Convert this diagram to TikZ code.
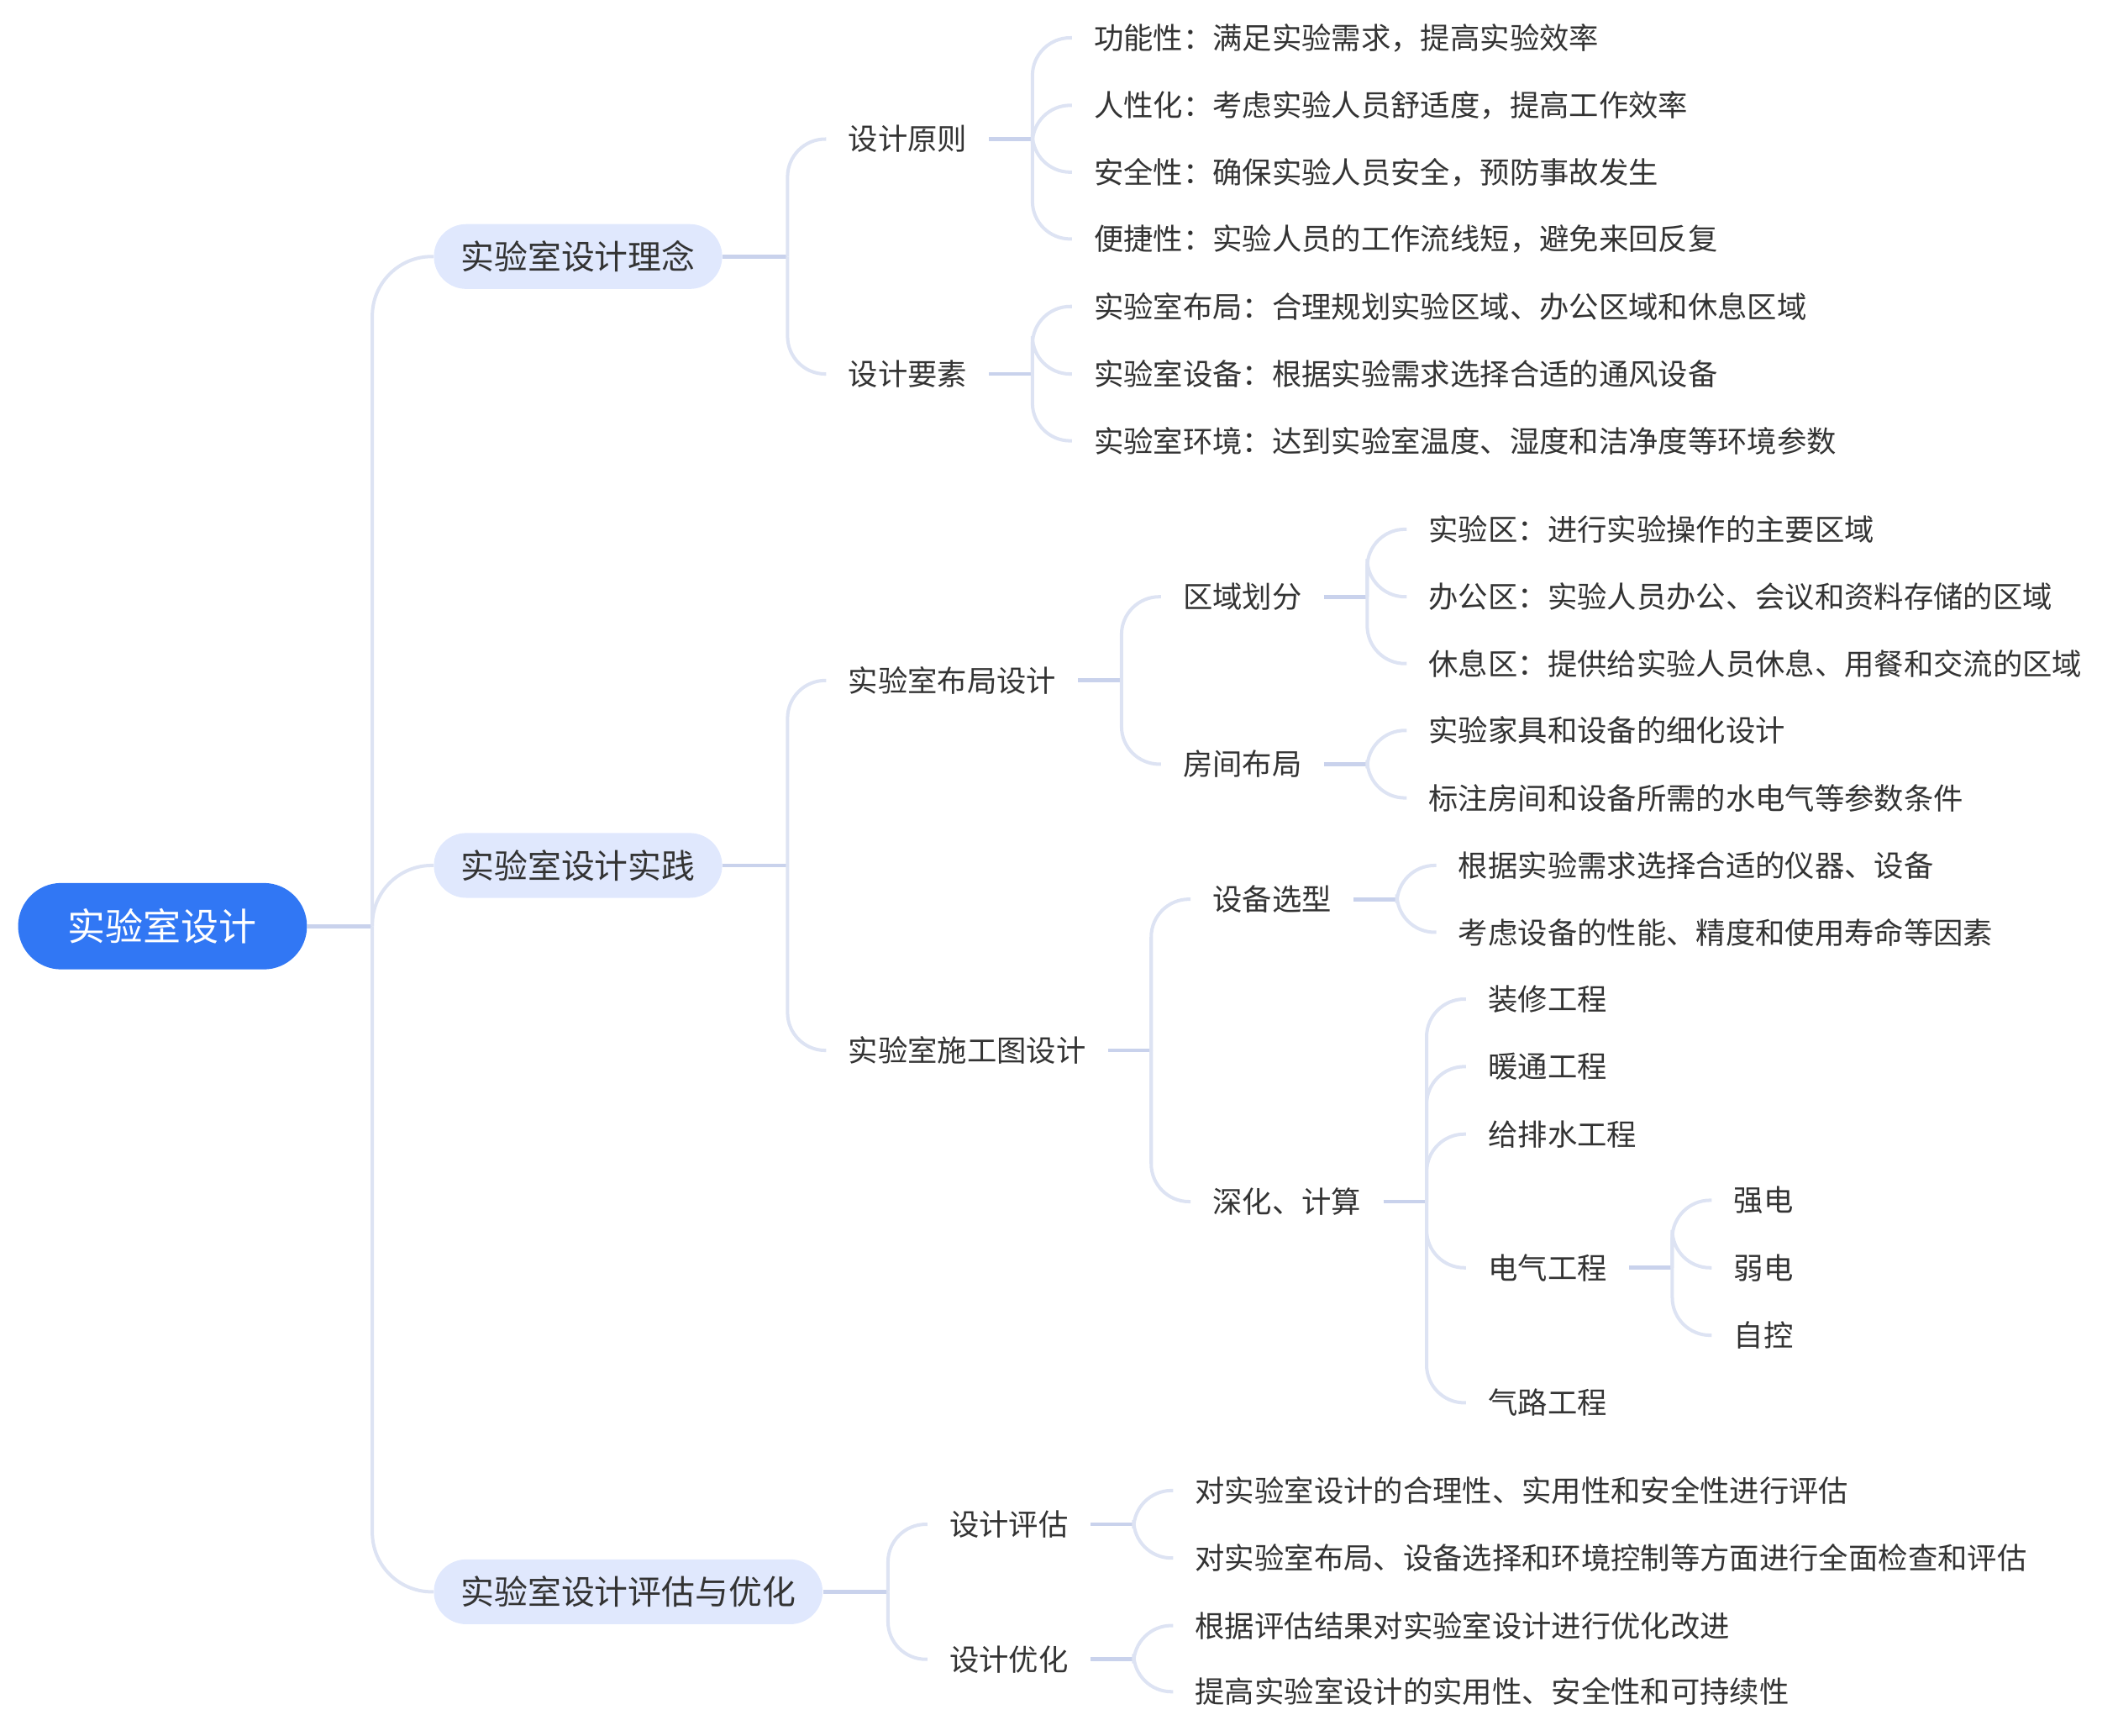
\documentclass[tikz,border=0pt]{standalone}
\usepackage{fontspec}
\setmainfont{Noto Sans CJK SC}
\usepackage{tikz}

\definecolor{rootblue}{HTML}{3177F4}
\definecolor{topicfill}{HTML}{E0E8FD}
\definecolor{txt}{HTML}{333333}
\definecolor{twigc}{HTML}{DDE3F3}
\definecolor{stubc}{HTML}{C9D2EC}

\begin{document}
\begin{tikzpicture}
[%%%%%%%%%%%%%%%%%%%%%%%%%%%%%%
x=0.5pt,y=-0.5pt,
root/.style={rectangle,fill=rootblue,text=white,rounded corners=16pt,minimum height=32pt,inner xsep=18.5pt,font=\fontsize{14pt}{16pt}\selectfont,anchor=west},
topic/.style={rectangle,fill=topicfill,text=txt,rounded corners=12pt,minimum height=24pt,inner xsep=10pt,font=\fontsize{12.4pt}{14pt}\selectfont,anchor=west},
item/.style={rectangle,text=txt,inner xsep=8pt,inner ysep=2pt,font=\fontsize{11pt}{13pt}\selectfont,anchor=west},
stub/.style={draw=stubc,line width=1.5pt},
twig/.style={draw=twigc,line width=1.25pt,rounded corners=14pt},
]%%%%%%%%%%%%%%%%%%%%%%%%%%%%%%
\useasboundingbox (0,0) rectangle (1569,1285.8);

% root and main topics
\node[root] (root) at (13,686){实验室设计};
\node[topic] (lx) at (321,190){实验室设计理念};
\node[topic] (sj) at (321,641){实验室设计实践};
\node[topic] (pg) at (321,1179){实验室设计评估与优化};

% 设计理念
\node[item] (yz) at (612,103){设计原则};
\node[item] (ys) at (612,277){设计要素};
\foreach \n/\y/\t in {yz1/28/功能性：满足实验需求，提高实验效率,
                     yz2/78/人性化：考虑实验人员舒适度，提高工作效率,
                     yz3/127.5/安全性：确保实验人员安全，预防事故发生,
                     yz4/177/便捷性：实验人员的工作流线短，避免来回反复,
                     ys1/227/实验室布局：合理规划实验区域、办公区域和休息区域,
                     ys2/277/实验室设备：根据实验需求选择合适的通风设备,
                     ys3/326.5/实验室环境：达到实验室温度、湿度和洁净度等环境参数}
\node[item] (\n) at (794,\y){\t};

% 设计实践
\node[item] (bj) at (612,504){实验室布局设计};
\node[item] (sg) at (612,778){实验室施工图设计};
\node[item] (qy) at (860,442){区域划分};
\node[item] (fj) at (860,566){房间布局};
\foreach \n/\y/\t in {qy1/392/实验区：进行实验操作的主要区域,
                     qy2/442/办公区：实验人员办公、会议和资料存储的区域,
                     qy3/491.5/休息区：提供给实验人员休息、用餐和交流的区域,
                     fj1/541/实验家具和设备的细化设计,
                     fj2/591/标注房间和设备所需的水电气等参数条件}
\node[item] (\n) at (1042,\y){\t};
\node[item] (xx) at (882,666){设备选型};
\node[item] (sh) at (882,890){深化、计算};
\node[item] (xx1) at (1064,641){根据实验需求选择合适的仪器、设备};
\node[item] (xx2) at (1064,690.5){考虑设备的性能、精度和使用寿命等因素};
\foreach \n/\y/\t in {sh1/740/装修工程,sh2/790/暖通工程,sh3/840/给排水工程,
                     sh4/939/电气工程,sh5/1039/气路工程}
\node[item] (\n) at (1086,\y){\t};
\foreach \n/\y/\t in {dq1/889/强电,dq2/939/弱电,dq3/989/自控}
\node[item] (\n) at (1268,\y){\t};

% 评估与优化
\node[item] (pgs) at (687,1129){设计评估};
\node[item] (yh) at (687,1229){设计优化};
\foreach \n/\y/\t in {pgs1/1104/对实验室设计的合理性、实用性和安全性进行评估,
                     pgs2/1154/对实验室布局、设备选择和环境控制等方面进行全面检查和评估,
                     yh1/1204/根据评估结果对实验室设计进行优化改进,
                     yh2/1253/提高实验室设计的实用性、安全性和可持续性}
\node[item] (\n) at (869,\y){\t};

% connectors
\draw[stub] (root.east) -- ++(24pt,0) coordinate (root-t);
\foreach \c in {lx,sj,pg}
\draw[twig,rounded corners=22pt] (root-t) |- (\c.west);
\foreach \p/\k in {lx/{yz,ys},sj/{bj,sg},pg/{pgs,yh}}{
\draw[stub] (\p.east) -- ++(24pt,0) coordinate (\p-t);
\foreach \c in \k \draw[twig] (\p-t) |- (\c.west);
}
\foreach \p/\k in {yz/{yz1,yz2,yz3,yz4},ys/{ys1,ys2,ys3},bj/{qy,fj},sg/{xx,sh},
                  qy/{qy1,qy2,qy3},fj/{fj1,fj2},xx/{xx1,xx2},sh/{sh1,sh2,sh3,sh4,sh5},
                  sh4/{dq1,dq2,dq3},pgs/{pgs1,pgs2},yh/{yh1,yh2}}{
\draw[stub] (\p.east) -- ++(16pt,0) coordinate (\p-t);
\foreach \c in \k \draw[twig] (\p-t) |- (\c.west);
}
\end{tikzpicture}
\end{document}
